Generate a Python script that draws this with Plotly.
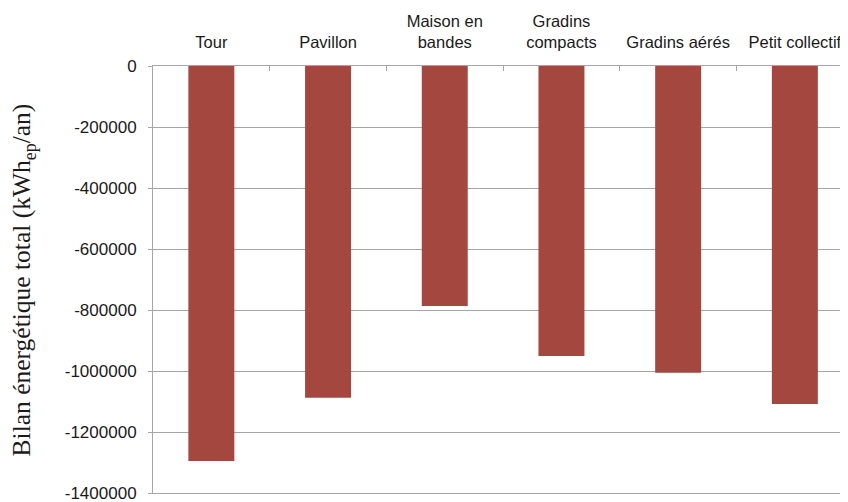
import plotly.graph_objects as go

categories = ["Tour", "Pavillon", "Maison en<br>bandes", "Gradins<br>compacts", "Gradins aérés", "Petit collectif"]
values = [-1295000, -1088000, -787000, -951000, -1006000, -1108000]
y_ticks = [0, -200000, -400000, -600000, -800000, -1000000, -1200000, -1400000]
y_tick_labels = [str(v) for v in y_ticks]

fig = go.Figure()
fig.add_trace(go.Bar(
    x=categories, y=values,
    marker=dict(color="#A4483F", line=dict(width=0)),
    showlegend=False,
))

fig.update_layout(
    width=848, height=502,
    margin=dict(l=145, r=0, t=58, b=17),
    paper_bgcolor="white", plot_bgcolor="white",
    bargap=0.606,
    font=dict(family="Liberation Sans, Arial, sans-serif", color="#1a1a1a"),
)
fig.update_xaxes(
    side="top", type="category", automargin=False,
    range=[-0.5, 5.524],
    showline=True, mirror=True, linecolor="#A6A6A6", linewidth=1,
    ticks="inside", tickson="boundaries", ticklen=5, tickcolor="#A6A6A6",
    tickfont=dict(size=16.5, family="Liberation Sans, Arial, sans-serif", color="#1a1a1a"),
    ticklabelstandoff=10,
    showgrid=False,
)
fig.update_yaxes(
    range=[-1400000, 0], automargin=False,
    tickvals=y_ticks, ticktext=y_tick_labels,
    showline=True, linecolor="#A6A6A6", linewidth=1,
    ticks="outside", ticklen=4, tickcolor="#A6A6A6",
    showgrid=True, gridcolor="#A6A6A6", gridwidth=1,
    zeroline=False,
    tickfont=dict(size=17, family="Liberation Sans, Arial, sans-serif", color="#1a1a1a"),
    ticklabelstandoff=8,
)
fig.add_annotation(
    text="Bilan énergétique total (kWh<sub>ep</sub>/an)",
    xref="paper", yref="paper",
    x=-0.185, y=0.5, xanchor="center", yanchor="middle",
    textangle=-90, showarrow=False,
    font=dict(family="Liberation Serif, Times New Roman, serif", size=25.5, color="#1a1a1a"),
)

fig.write_html("out.html")
